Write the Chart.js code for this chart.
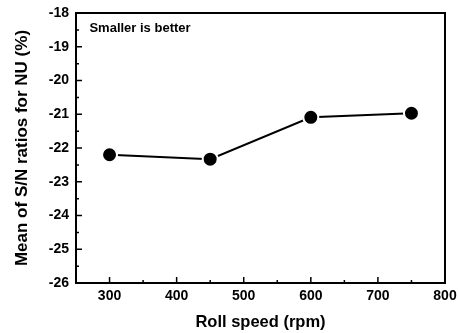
<!DOCTYPE html>
<html>
<head>
<meta charset="utf-8">
<script src="https://cdn.jsdelivr.net/npm/chart.js@4/dist/chart.umd.min.js"></script>
<style>
html,body{margin:0;padding:0;background:#fff;}
#wrap{width:458px;height:333px;position:relative;}
</style>
</head>
<body>
<div id="wrap"><canvas id="c" width="458" height="333"></canvas></div>
<script>
const rollSpeed = [300, 450, 600, 750];
const snMean = [-22.2, -22.33, -21.09, -20.97];
const xTicks = [300, 400, 500, 600, 700, 800];
const yTicks = [-18, -19, -20, -21, -22, -23, -24, -25, -26];
const annotationText = 'Smaller is better';

const FONT = '"Liberation Sans", Arial, sans-serif';

const frame = {
  id: 'frame',
  afterDraw(chart) {
    const {ctx, chartArea: a, scales} = chart;
    ctx.save();
    ctx.strokeStyle = '#000';
    ctx.lineWidth = 2;
    ctx.strokeRect(a.left, a.top, a.right - a.left, a.bottom - a.top);
    ctx.lineWidth = 1.5;
    ctx.beginPath();
    for (let v = 250; v <= 800; v += 50) {
      const px = scales.x.getPixelForValue(v);
      const len = (v % 100 === 0) ? 6 : 3;
      ctx.moveTo(px, a.bottom); ctx.lineTo(px, a.bottom - len);
    }
    for (let v = -26; v <= -18; v += 0.5) {
      const py = scales.y.getPixelForValue(v);
      const len = (Number.isInteger(v)) ? 6 : 3;
      ctx.moveTo(a.left, py); ctx.lineTo(a.left + len, py);
    }
    ctx.stroke();
    ctx.fillStyle = '#000';
    ctx.font = 'bold 13px ' + FONT;
    ctx.textBaseline = 'middle';
    ctx.fillText(annotationText, scales.x.getPixelForValue(270), scales.y.getPixelForValue(-18.47));
    ctx.restore();
  }
};

new Chart(document.getElementById('c'), {
  type: 'scatter',
  data: {
    datasets: [{
      data: rollSpeed.map((x, i) => ({x, y: snMean[i]})),
      showLine: true,
      borderColor: '#000',
      borderWidth: 2,
      pointRadius: 7.5,
      pointHoverRadius: 7.5,
      pointBackgroundColor: '#000',
      pointBorderColor: '#fff',
      pointBorderWidth: 2
    }]
  },
  options: {
    responsive: false,
    animation: false,
    events: [],
    layout: {padding: {top: 13, right: 13, left: 0, bottom: 0}},
    plugins: {legend: {display: false}, tooltip: {enabled: false}},
    scales: {
      x: {
        type: 'linear', min: 250, max: 800,
        afterBuildTicks(s) { s.ticks = xTicks.map(v => ({value: v})); },
        afterFit(s) { s.height = 50; s.paddingLeft = 0; s.paddingRight = 0; },
        grid: {display: false, drawTicks: false},
        border: {display: false},
        ticks: {color: '#000', font: {family: FONT, size: 14, weight: 'bold'}, padding: 5, maxRotation: 0},
        title: {display: true, text: 'Roll speed (rpm)', color: '#000', font: {family: FONT, size: 16.5, weight: 'bold'}, padding: {top: 4, bottom: 1}}
      },
      y: {
        min: -26, max: -18,
        afterBuildTicks(s) { s.ticks = yTicks.map(v => ({value: v})); },
        afterFit(s) { s.width = 76; s.paddingTop = 0; s.paddingBottom = 0; },
        grid: {display: false, drawTicks: false},
        border: {display: false},
        ticks: {color: '#000', font: {family: FONT, size: 14, weight: 'bold'}, padding: 7},
        title: {display: true, text: 'Mean of S/N ratios for NU (%)', color: '#000', font: {family: FONT, size: 17, weight: 'bold'}, padding: {top: 12, bottom: 4}}
      }
    }
  },
  plugins: [frame]
});
</script>
</body>
</html>
